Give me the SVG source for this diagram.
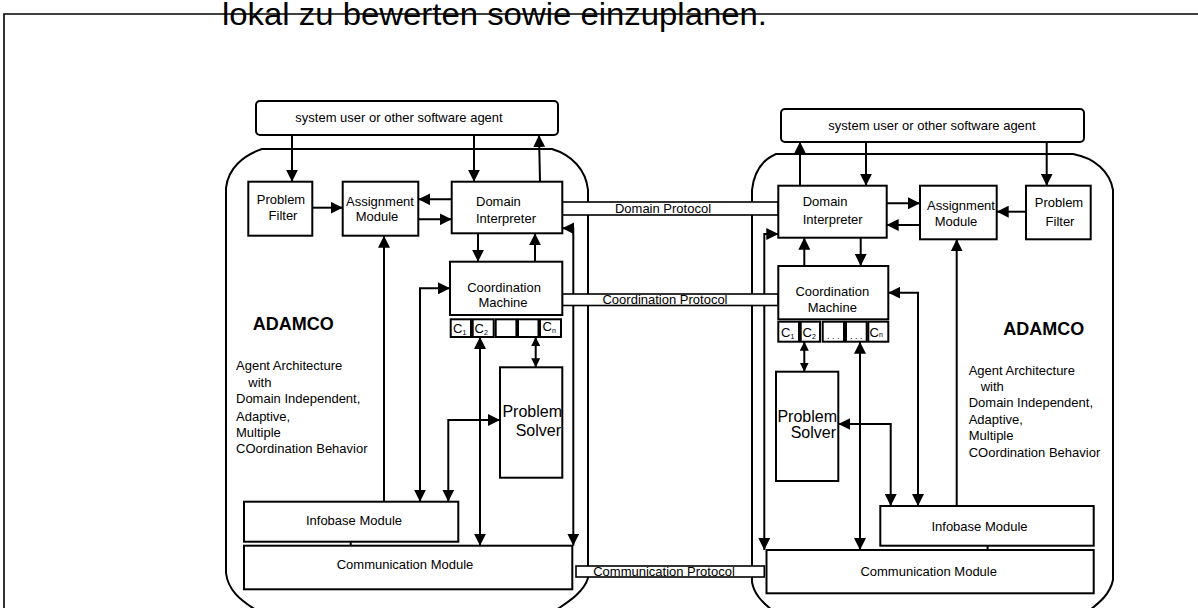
<svg xmlns="http://www.w3.org/2000/svg" width="1198" height="608" viewBox="0 0 1198 608">
<defs>
<marker id="ah" viewBox="0 0 12 12" refX="12" refY="6" markerWidth="12" markerHeight="12" markerUnits="userSpaceOnUse" orient="auto-start-reverse"><path d="M0,0 L12,6 L0,12 z" fill="#000"/></marker>
<marker id="as" viewBox="0 0 10 10" refX="10" refY="5" markerWidth="9" markerHeight="9" markerUnits="userSpaceOnUse" orient="auto-start-reverse"><path d="M0,0 L10,5 L0,10 z" fill="#000"/></marker>
<style>
.b{fill:#fff;stroke:#000;stroke-width:2}
.bd{fill:none;stroke:#000;stroke-width:2}
.t{font-family:"Liberation Sans",Arial,sans-serif;font-size:13px;fill:#000}
.m{text-anchor:middle}
.e{text-anchor:end}
.big{font-size:16px}
.hd{font-size:18px;font-weight:bold}
.sub{font-size:7px}
.c{fill:none;stroke:#000;stroke-width:2}
.a{marker-end:url(#ah)}
.aa{marker-start:url(#ah);marker-end:url(#ah)}
.ss{marker-start:url(#as);marker-end:url(#as)}
.bar{fill:#fff;stroke:#000;stroke-width:1.6}
</style>
</defs>
<rect width="1198" height="608" fill="#fff"/>
<g id="frame">
<path d="M4,608 V14 H1198" fill="none" stroke="#000" stroke-width="1.6"/>
<text class="t" x="222" y="25" style="font-size:32px" textLength="545" lengthAdjust="spacingAndGlyphs">lokal zu bewerten sowie einzuplanen.</text>
</g>
<g id="agent-left-boundary">
<path class="bd" d="M262,149 H552 C572,155 586,170 588,190 V578 C584,592 568,602 556,610 H256 C240,600 228,590 226,573 V188 C228,168 244,155 262,149 Z"/>
</g>
<g id="agent-right-boundary">
<path class="bd" d="M776,154 H1073 C1095,158 1110,172 1113,190 V580 C1110,594 1100,602 1090,610 H772 C762,602 754,594 752,582 V190 C754,172 762,160 776,154 Z"/>
</g>
<g id="connectors">
<path class="c a" d="M292,135 V181.7"/>
<path class="c a" d="M474,135 V181.7"/>
<path class="c a" d="M540,181.7 L539,135"/>
<path class="c a" d="M312.3,207.7 H342.7"/>
<path class="c a" d="M451.7,199.3 H418.3"/>
<path class="c a" d="M418.3,219.3 H451.7"/>
<path class="c a" d="M478,233.3 V261.7"/>
<path class="c a" d="M535,261.7 V233.3"/>
<path class="c a" d="M384,501.7 V235.7"/>
<path class="c aa" d="M420,501.7 V288.3 H450"/>
<path class="c aa" d="M448.3,501.7 V420 H500"/>
<path class="c aa" d="M480,337 V545.7"/>
<path class="c ss" d="M535.7,337 V367.3"/>
<path class="c aa" d="M562.3,228.3 H573.3 V545.7"/>
<path class="c ss" d="M350.7,533 V562.5"/>
<path class="c a" d="M866,141.7 V185.7"/>
<path class="c a" d="M800,185.7 V141.7"/>
<path class="c a" d="M1046.7,141.7 V185.7"/>
<path class="c a" d="M886.7,203.3 H920"/>
<path class="c a" d="M920,225 H886.7"/>
<path class="c a" d="M1026,211.7 H996.7"/>
<path class="c a" d="M804.3,266 V237.7"/>
<path class="c a" d="M860.7,237.7 V266"/>
<path class="c a" d="M956.7,506 V239.3"/>
<path class="c aa" d="M918,506 V292.7 H888.3"/>
<path class="c aa" d="M890.7,506 V424 H838.3"/>
<path class="c aa" d="M860,341.7 V550"/>
<path class="c ss" d="M804.3,341.7 V371.7"/>
<path class="c aa" d="M778.3,234 H764.3 V550"/>
<path class="c ss" d="M987.6,536.7 V566"/>
</g>
<g id="domain-protocol">
<rect class="bar" x="562.3" y="202" width="216" height="13"/>
<text class="t m" x="663" y="213.3">Domain Protocol</text>
</g>
<g id="coordination-protocol">
<rect class="bar" x="562.3" y="294" width="216" height="11.5"/>
<text class="t m" x="665" y="303.5">Coordination Protocol</text>
</g>
<g id="communication-protocol">
<rect class="bar" x="576" y="566" width="188.3" height="11"/>
<text class="t m" x="664" y="576">Communication Protocol</text>
</g>
<g id="left-user">
<rect class="b" x="256" y="101" width="302" height="34" rx="4"/>
<text class="t m" x="399" y="122">system user or other software agent</text>
</g>
<g id="left-problem-filter">
<rect class="b" x="248.3" y="181.7" width="64" height="54"/>
<text class="t m" x="281" y="203.5">Problem</text>
<text class="t m" x="283" y="219.5">Filter</text>
</g>
<g id="left-assignment-module">
<rect class="b" x="342.7" y="181.7" width="75.6" height="54"/>
<text class="t m" x="380" y="206">Assignment</text>
<text class="t m" x="377" y="220.7">Module</text>
</g>
<g id="left-domain-interpreter">
<rect class="b" x="451.7" y="181.7" width="110.6" height="51.6"/>
<text class="t" x="476" y="206">Domain</text>
<text class="t" x="476" y="223.3">Interpreter</text>
</g>
<g id="left-coordination-machine">
<rect class="b" x="450" y="261.7" width="112.3" height="53.3"/>
<text class="t m" x="504" y="291.7">Coordination</text>
<text class="t m" x="503" y="306.7">Machine</text>
<rect class="b" x="450.7" y="319.3" width="20.3" height="17.7"/>
<rect class="b" x="472.7" y="319.3" width="21" height="17.7"/>
<rect class="b" x="495.7" y="319.3" width="20.7" height="17.7"/>
<rect class="b" x="518" y="319.3" width="20.5" height="17.7"/>
<rect class="b" x="540" y="319.3" width="21" height="17.7"/>
<text class="t" x="453" y="333">C<tspan class="sub" dy="2">1</tspan></text>
<text class="t" x="474.5" y="333">C<tspan class="sub" dy="2">2</tspan></text>
<text class="t" x="542.5" y="331">C<tspan class="sub" dy="2">n</tspan></text>
</g>
<g id="left-problem-solver">
<rect class="b" x="500" y="367.3" width="62.3" height="110.4"/>
<text class="t e big" x="562" y="417.3">Problem</text>
<text class="t e big" x="561" y="435.7">Solver</text>
</g>
<g id="left-label">
<text class="t hd" x="252.7" y="330">ADAMCO</text>
<text class="t" x="236" y="370">Agent Architecture</text>
<text class="t" x="248.3" y="386.5">with</text>
<text class="t" x="236" y="403.3">Domain Independent,</text>
<text class="t" x="236" y="421">Adaptive,</text>
<text class="t" x="236" y="436.7">Multiple</text>
<text class="t" x="236" y="453.3">COordination Behavior</text>
</g>
<g id="left-infobase">
<rect class="b" x="244" y="501.7" width="214.3" height="40"/>
<text class="t m" x="354" y="525">Infobase Module</text>
</g>
<g id="left-communication">
<rect class="b" x="244" y="545.7" width="328.3" height="43.6"/>
<text class="t m" x="405" y="569.3">Communication Module</text>
</g>
<g id="right-user">
<rect class="b" x="781" y="109" width="303" height="33" rx="4"/>
<text class="t m" x="932" y="129.5">system user or other software agent</text>
</g>
<g id="right-domain-interpreter">
<rect class="b" x="778.3" y="185.7" width="108.4" height="52"/>
<text class="t" x="802.7" y="206">Domain</text>
<text class="t" x="802.7" y="224">Interpreter</text>
</g>
<g id="right-assignment-module">
<rect class="b" x="920" y="185.7" width="76.7" height="53.6"/>
<text class="t m" x="961" y="210">Assignment</text>
<text class="t m" x="956" y="225.7">Module</text>
</g>
<g id="right-problem-filter">
<rect class="b" x="1026" y="185.7" width="64.7" height="53.6"/>
<text class="t m" x="1059" y="207.3">Problem</text>
<text class="t m" x="1060" y="225.7">Filter</text>
</g>
<g id="right-coordination-machine">
<rect class="b" x="778.3" y="266" width="110" height="53.3"/>
<text class="t m" x="832.3" y="296">Coordination</text>
<text class="t m" x="832.3" y="311.7">Machine</text>
<rect class="b" x="778.3" y="321.7" width="20.7" height="20"/>
<rect class="b" x="800.7" y="321.7" width="19.3" height="20"/>
<rect class="b" x="822.7" y="321.7" width="21.3" height="20"/>
<rect class="b" x="846" y="321.7" width="20.7" height="20"/>
<rect class="b" x="868.3" y="321.7" width="20" height="20"/>
<text class="t" x="781" y="337">C<tspan class="sub" dy="2">1</tspan></text>
<text class="t" x="802.5" y="337">C<tspan class="sub" dy="2">2</tspan></text>
<text class="t" x="827" y="339" style="font-size:9px">. . .</text>
<text class="t" x="850" y="339" style="font-size:9px">. . .</text>
<text class="t" x="869.5" y="337">C<tspan class="sub">n</tspan></text>
</g>
<g id="right-problem-solver">
<rect class="b" x="776" y="371.7" width="62.3" height="109.3"/>
<text class="t e big" x="837" y="421.7">Problem</text>
<text class="t e big" x="836" y="438.3">Solver</text>
</g>
<g id="right-label">
<text class="t hd" x="1003.3" y="335">ADAMCO</text>
<text class="t" x="968.7" y="375">Agent Architecture</text>
<text class="t" x="980.7" y="390.7">with</text>
<text class="t" x="968.7" y="406.7">Domain Independent,</text>
<text class="t" x="968.7" y="424">Adaptive,</text>
<text class="t" x="968.7" y="440">Multiple</text>
<text class="t" x="968.7" y="456.5">COordination Behavior</text>
</g>
<g id="right-infobase">
<rect class="b" x="880.3" y="506" width="213.4" height="39.7"/>
<text class="t m" x="979.5" y="531">Infobase Module</text>
</g>
<g id="right-communication">
<rect class="b" x="766.5" y="550" width="327.2" height="43.3"/>
<text class="t m" x="928.7" y="575.7">Communication Module</text>
</g>
</svg>
